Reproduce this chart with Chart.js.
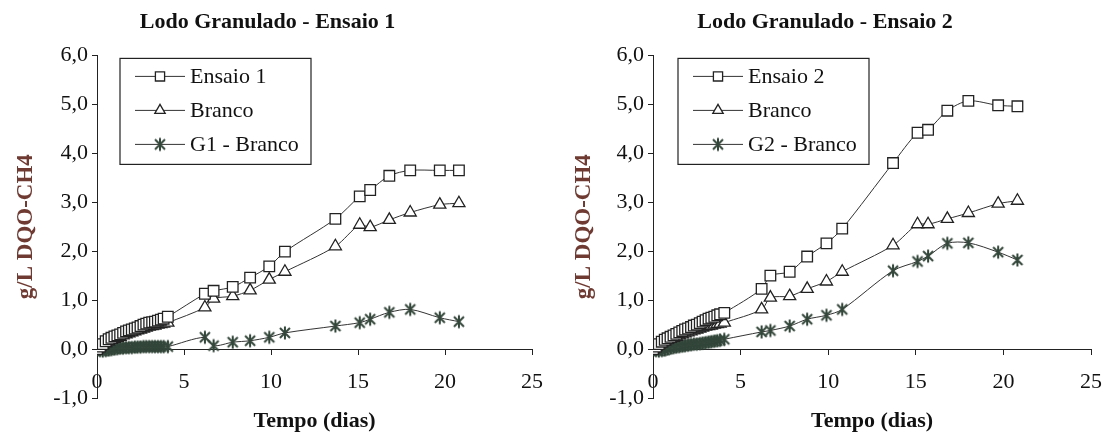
<!DOCTYPE html>
<html>
<head>
<meta charset="utf-8">
<script src="https://cdn.jsdelivr.net/npm/chart.js@4.4.1/dist/chart.umd.min.js"></script>
<style>
  body { margin: 0; background: #fff; }
  #wrap { display: flex; width: 1117px; height: 434px; }
  canvas { display: block; }
</style>
</head>
<body>
<div id="wrap">
  <canvas id="g1" width="558" height="434"></canvas>
  <canvas id="g2" width="559" height="434"></canvas>
</div>
<script>
// tempo de leitura (dias) - mesmo cronograma nos dois ensaios
const dias = [0, 0.17, 0.33, 0.5, 0.67, 0.83, 1, 1.17, 1.33, 1.5, 1.67, 1.83, 2, 2.17, 2.33, 2.5,
  2.67, 2.83, 3, 3.17, 3.33, 3.5, 3.67, 3.83, 4.07,
  6.2, 6.7, 7.8, 8.8, 9.9, 10.8, 13.7, 15.1, 15.7, 16.8, 18.0, 19.7, 20.8];

// Ensaio 1
const ensaio1 = [0, 0.05, 0.1, 0.16, 0.2, 0.23, 0.26, 0.28, 0.3, 0.33, 0.36, 0.38, 0.4, 0.42, 0.44, 0.47,
  0.5, 0.52, 0.54, 0.55, 0.56, 0.58, 0.6, 0.62, 0.66,
  1.13, 1.19, 1.27, 1.46, 1.69, 1.99, 2.66, 3.12, 3.25, 3.54, 3.65, 3.65, 3.65];
const branco1 = [0, 0.04, 0.08, 0.12, 0.16, 0.19, 0.21, 0.23, 0.25, 0.28, 0.3, 0.32, 0.34, 0.36, 0.38, 0.4,
  0.42, 0.44, 0.46, 0.47, 0.48, 0.5, 0.51, 0.52, 0.54,
  0.85, 1.03, 1.08, 1.2, 1.42, 1.58, 2.1, 2.54, 2.49, 2.64, 2.79, 2.95, 2.98];
const g1Branco = [0, -0.03, -0.04, -0.03, -0.02, -0.01, 0, 0.01, 0.02, 0.02, 0.03, 0.03, 0.03, 0.04, 0.04, 0.04,
  0.05, 0.05, 0.05, 0.05, 0.05, 0.05, 0.05, 0.05, 0.05,
  0.24, 0.07, 0.14, 0.17, 0.24, 0.33, 0.47, 0.54, 0.61, 0.75, 0.81, 0.64, 0.56];

// Ensaio 2
const ensaio2 = [0, 0.05, 0.1, 0.15, 0.19, 0.22, 0.25, 0.28, 0.31, 0.34, 0.37, 0.4, 0.42, 0.45, 0.48, 0.5,
  0.53, 0.56, 0.59, 0.62, 0.64, 0.66, 0.69, 0.71, 0.74,
  1.23, 1.5, 1.58, 1.89, 2.16, 2.46, 3.8, 4.42, 4.48, 4.87, 5.07, 4.98, 4.96];
const branco2 = [0, 0.04, 0.08, 0.12, 0.16, 0.19, 0.21, 0.23, 0.25, 0.28, 0.3, 0.32, 0.34, 0.36, 0.38, 0.4,
  0.42, 0.44, 0.46, 0.47, 0.48, 0.5, 0.51, 0.52, 0.54,
  0.81, 1.05, 1.08, 1.23, 1.38, 1.58, 2.12, 2.55, 2.55, 2.66, 2.78, 2.97, 3.03];
const g2Branco = [0, -0.03, -0.04, -0.03, -0.02, 0, 0.02, 0.03, 0.04, 0.05, 0.06, 0.07, 0.08, 0.09, 0.1, 0.1,
  0.11, 0.12, 0.13, 0.14, 0.15, 0.16, 0.17, 0.18, 0.2,
  0.35, 0.38, 0.47, 0.61, 0.69, 0.81, 1.6, 1.79, 1.9, 2.16, 2.17, 1.98, 1.82];

const serif = "'Liberation Serif', 'Times New Roman', serif";
Chart.defaults.font.family = serif;
Chart.defaults.color = '#111';

// asterisco (marcador do G - Branco)
function asterisk(color) {
  const c = document.createElement('canvas');
  c.width = c.height = 16;
  const g = c.getContext('2d');
  g.strokeStyle = color;
  g.lineWidth = 2;
  g.beginPath();
  g.moveTo(8, 1.5); g.lineTo(8, 14.5);
  g.moveTo(3, 3); g.lineTo(13, 13);
  g.moveTo(13, 3); g.lineTo(3, 13);
  g.stroke();
  return c;
}
const star = asterisk('#33463a');

function serie(label, values, style, radius) {
  return {
    label: label,
    data: dias.map((d, i) => ({ x: d, y: values[i] })),
    borderColor: '#333',
    borderWidth: 1,
    pointStyle: style,
    pointRadius: radius,
    pointBackgroundColor: '#fff',
    pointBorderColor: '#222',
    pointBorderWidth: 1.3,
    tension: 0.3
  };
}

// legenda dentro da area do grafico, com linha + marcador
const legendBox = {
  id: 'legendBox',
  afterDraw(chart, args, opts) {
    const { ctx, chartArea } = chart;
    const x0 = chartArea.left + opts.dx, y0 = chartArea.top + 3, w = 191, h = 106;
    ctx.save();
    ctx.fillStyle = '#fff';
    ctx.fillRect(x0, y0, w, h);
    ctx.strokeStyle = '#222';
    ctx.lineWidth = 1.2;
    ctx.strokeRect(x0, y0, w, h);
    ctx.font = '22px ' + serif;
    ctx.textBaseline = 'middle';
    chart.data.datasets.forEach((ds, i) => {
      const y = y0 + 18 + i * 34;
      ctx.strokeStyle = ds.borderColor;
      ctx.lineWidth = 1;
      ctx.beginPath();
      ctx.moveTo(x0 + 15, y);
      ctx.lineTo(x0 + 65, y);
      ctx.stroke();
      ctx.fillStyle = ds.pointBackgroundColor;
      ctx.strokeStyle = ds.pointBorderColor;
      ctx.lineWidth = ds.pointBorderWidth;
      Chart.helpers.drawPoint(ctx, {
        pointStyle: ds.pointStyle, radius: ds.pointRadius - 1,
        borderWidth: ds.pointBorderWidth, rotation: 0
      }, x0 + 40, y);
      ctx.fillStyle = '#111';
      ctx.fillText(ds.label, x0 + 70, y + 1);
    });
    ctx.restore();
  }
};

function grafico(id, titulo, nomes, series, axisWidth, padRight, legendDx) {
  return new Chart(document.getElementById(id), {
    type: 'line',
    data: {
      datasets: [
        serie(nomes[0], series[0], 'rect', 7.5),
        serie(nomes[1], series[1], 'triangle', 7),
        serie(nomes[2], series[2], star, 7)
      ]
    },
    options: {
      responsive: false,
      animation: false,
      devicePixelRatio: 1,
      layout: { padding: { left: 0, right: padRight, top: 0, bottom: 36 } },
      plugins: {
        legend: { display: false },
        tooltip: { enabled: false },
        title: {
          display: true,
          text: titulo,
          color: '#111',
          font: { size: 22, weight: 'bold' },
          padding: { top: 9, bottom: 20 }
        },
        legendBox: { dx: legendDx }
      },
      scales: {
        x: {
          type: 'linear',
          min: 0,
          max: 25,
          position: { y: 0 },
          ticks: { stepSize: 5, padding: 15, maxRotation: 0, font: { size: 22 }, color: '#111' },
          grid: { drawOnChartArea: false, tickLength: 5, color: '#222' },
          border: { color: '#222', width: 1 },
          title: {
            display: true, text: 'Tempo (dias)', color: '#111',
            font: { size: 22, weight: 'bold' }, padding: { top: -2, bottom: 0 }
          }
        },
        y: {
          min: -1,
          max: 6,
          ticks: {
            stepSize: 1, padding: 4, font: { size: 22 }, color: '#111',
            callback: v => v.toFixed(1).replace('.', ',')
          },
          grid: { drawOnChartArea: false, tickLength: 5, color: '#222' },
          border: { color: '#222', width: 1 },
          title: {
            display: true, text: 'g/L DQO-CH4', color: '#6e3a32',
            font: { size: 23, weight: 'bold' }, padding: { top: 12, bottom: 0 }
          },
          afterFit: s => { s.width = axisWidth; }
        }
      }
    },
    plugins: [legendBox]
  });
}

grafico('g1', 'Lodo Granulado - Ensaio 1', ['Ensaio 1', 'Branco', 'G1 - Branco'],
  [ensaio1, branco1, g1Branco], 97, 23, 23);
grafico('g2', 'Lodo Granulado - Ensaio 2', ['Ensaio 2', 'Branco', 'G2 - Branco'],
  [ensaio2, branco2, g2Branco], 95, 25, 25);
</script>
</body>
</html>
